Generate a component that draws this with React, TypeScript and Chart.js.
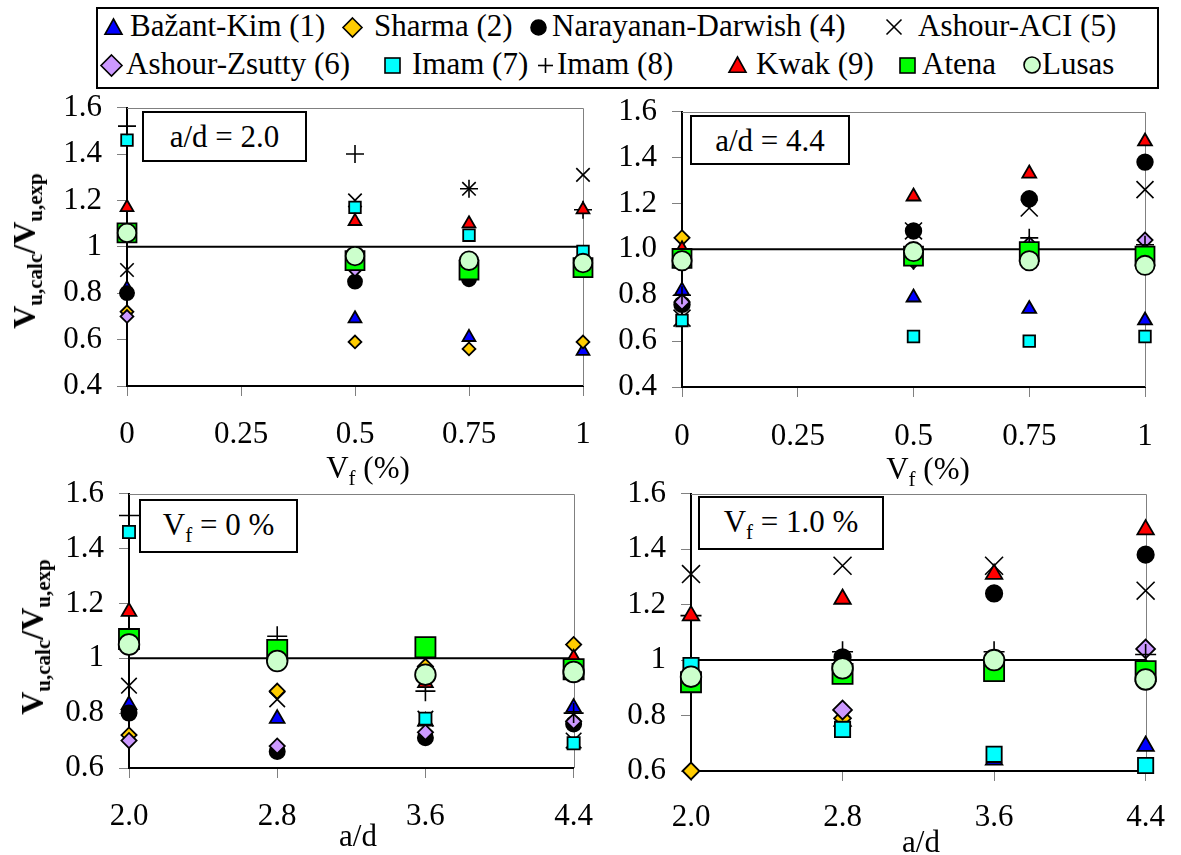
import React, { useEffect, useRef } from "react";
import { Chart, registerables } from "chart.js";

Chart.register(...registerables);

// ---------- categories & ticks ----------
const seriesNames = [
  "Bažant-Kim (1)",
  "Sharma (2)",
  "Narayanan-Darwish (4)",
  "Ashour-ACI (5)",
  "Ashour-Zsutty (6)",
  "Imam (7)",
  "Imam (8)",
  "Kwak (9)",
  "Atena",
  "Lusas",
];

const vfValues = [0, 0.5, 0.75, 1];
const adValues = [2.0, 2.8, 3.6, 4.4];

const vfTicks = [0, 0.25, 0.5, 0.75, 1];
const vfTickLabels = ["0", "0.25", "0.5", "0.75", "1"];
const adTicks = [2.0, 2.8, 3.6, 4.4];
const adTickLabels = ["2.0", "2.8", "3.6", "4.4"];
const yTicksTop = [0.4, 0.6, 0.8, 1.0, 1.2, 1.4, 1.6];
const yLabelsTopLeft = ["0.4", "0.6", "0.8", "1", "1.2", "1.4", "1.6"];
const yLabelsTopRight = ["0.4", "0.6", "0.8", "1.0", "1.2", "1.4", "1.6"];
const yTicksBottom = [0.6, 0.8, 1.0, 1.2, 1.4, 1.6];
const yLabelsBottom = ["0.6", "0.8", "1", "1.2", "1.4", "1.6"];

// ---------- panel a/d = 2.0 (x = Vf) ----------
const bazantKim_ad20 = [0.82, 0.69, 0.61, 0.55];
const sharma_ad20 = [0.72, 0.59, 0.56, 0.59];
const narayanan_ad20 = [0.8, 0.85, 0.86, 0.92];
const ashourAci_ad20 = [0.9, 1.2, 1.25, 1.31];
const ashourZsutty_ad20 = [0.7, 0.9, 0.88, 0.93];
const imam7_ad20 = [1.46, 1.17, 1.05, 0.98];
const imam8_ad20 = [1.52, 1.4, 1.25, 1.16];
const kwak_ad20 = [1.17, 1.11, 1.1, 1.16];
const atena_ad20 = [1.06, 0.94, 0.9, 0.91];
const lusas_ad20 = [1.06, 0.96, 0.94, 0.93];

// ---------- panel a/d = 4.4 (x = Vf) ----------
const bazantKim_ad44 = [0.82, 0.79, 0.74, 0.69];
const sharma_ad44 = [1.05, 0.96, 0.97, 0.97];
const narayanan_ad44 = [0.76, 1.08, 1.22, 1.38];
const ashourAci_ad44 = [0.7, 1.08, 1.18, 1.26];
const ashourZsutty_ad44 = [0.77, 0.95, 1.02, 1.04];
const imam7_ad44 = [0.69, 0.62, 0.6, 0.62];
const imam8_ad44 = [0.8, 0.95, 1.05, 1.02];
const kwak_ad44 = [1.0, 1.23, 1.33, 1.47];
const atena_ad44 = [0.96, 0.97, 0.99, 0.97];
const lusas_ad44 = [0.95, 0.99, 0.95, 0.93];

// ---------- panel Vf = 0 % (x = a/d) ----------
const bazantKim_vf0 = [0.83, 0.78, 0.77, 0.82];
const sharma_vf0 = [0.72, 0.88, 0.97, 1.05];
const narayanan_vf0 = [0.8, 0.66, 0.71, 0.76];
const ashourAci_vf0 = [0.9, 0.85, 0.78, 0.7];
const ashourZsutty_vf0 = [0.7, 0.68, 0.73, 0.77];
const imam7_vf0 = [1.46, 1.0, 0.78, 0.69];
const imam8_vf0 = [1.52, 1.08, 0.88, 0.8];
const kwak_vf0 = [1.17, 0.99, 0.91, 1.0];
const atena_vf0 = [1.07, 1.03, 1.04, 0.96];
const lusas_vf0 = [1.05, 0.99, 0.94, 0.95];

// ---------- panel Vf = 1.0 % (x = a/d) ----------
const bazantKim_vf1 = [0.55, 0.78, 0.64, 0.69];
const sharma_vf1 = [0.6, 0.79, 0.98, 0.97];
const narayanan_vf1 = [0.92, 1.01, 1.24, 1.38];
const ashourAci_vf1 = [1.31, 1.34, 1.34, 1.25];
const ashourZsutty_vf1 = [0.93, 0.82, 0.98, 1.04];
const imam7_vf1 = [0.98, 0.75, 0.66, 0.62];
const imam8_vf1 = [1.16, 1.03, 1.03, 1.02];
const kwak_vf1 = [1.16, 1.22, 1.31, 1.47];
const atena_vf1 = [0.92, 0.95, 0.96, 0.96];
const lusas_vf1 = [0.94, 0.97, 1.0, 0.93];

const referenceRatio = 1.0;

// ---------- styles ----------
const FONT = "Liberation Serif";

const STYLES = [
  { pointStyle: "triangle", bg: "#0000FF" },
  { pointStyle: "rectRot", bg: "#FFCC00" },
  { pointStyle: "circle", bg: "#000000" },
  { pointStyle: "crossRot", bg: "#000000" },
  { pointStyle: "rectRot", bg: "#CC99FF" },
  { pointStyle: "rect", bg: "#00FFFF" },
  { pointStyle: "cross", bg: "#000000" },
  { pointStyle: "triangle", bg: "#FF0000" },
  { pointStyle: "rect", bg: "#00FF00" },
  { pointStyle: "circle", bg: "#CCFFCC" },
];

const PANELS = [
  {
    x: vfValues,
    series: [bazantKim_ad20, sharma_ad20, narayanan_ad20, ashourAci_ad20, ashourZsutty_ad20, imam7_ad20, imam8_ad20, kwak_ad20, atena_ad20, lusas_ad20],
    xMin: 0, xMax: 1, xTicks: vfTicks, xLabels: vfTickLabels,
    yMin: 0.4, yMax: 1.6, yTicks: yTicksTop, yLabels: yLabelsTopLeft,
    L: 127, R: 583, T: 104, B: 386, xPad: 20,
    sizes: [7.4, 6.4, 7, 9.5, 6.4, 8.2, 9, 7.4, 13.4, 9.3],
  },
  {
    x: vfValues,
    series: [bazantKim_ad44, sharma_ad44, narayanan_ad44, ashourAci_ad44, ashourZsutty_ad44, imam7_ad44, imam8_ad44, kwak_ad44, atena_ad44, lusas_ad44],
    xMin: 0, xMax: 1, xTicks: vfTicks, xLabels: vfTickLabels,
    yMin: 0.4, yMax: 1.6, yTicks: yTicksTop, yLabels: yLabelsTopRight,
    L: 682, R: 1145, T: 108, B: 387, xPad: 21,
    sizes: [8, 7.6, 7.8, 12, 7.6, 8.2, 9, 8, 13.4, 9.6],
  },
  {
    x: adValues,
    series: [bazantKim_vf0, sharma_vf0, narayanan_vf0, ashourAci_vf0, ashourZsutty_vf0, imam7_vf0, imam8_vf0, kwak_vf0, atena_vf0, lusas_vf0],
    xMin: 2.0, xMax: 4.4, xTicks: adTicks, xLabels: adTickLabels,
    yMin: 0.6, yMax: 1.6, yTicks: yTicksBottom, yLabels: yLabelsBottom,
    L: 129, R: 583, T: 490, B: 768, xPad: 20,
    sizes: [8.5, 7.6, 7.6, 11, 7.6, 8.6, 10, 8.5, 14.2, 10.3],
  },
  {
    x: adValues,
    series: [bazantKim_vf1, sharma_vf1, narayanan_vf1, ashourAci_vf1, ashourZsutty_vf1, imam7_vf1, imam8_vf1, kwak_vf1, atena_vf1, lusas_vf1],
    xMin: 2.0, xMax: 4.4, xTicks: adTicks, xLabels: adTickLabels,
    yMin: 0.6, yMax: 1.6, yTicks: yTicksBottom, yLabels: yLabelsBottom,
    L: 691, R: 1153, T: 490, B: 771, xPad: 18,
    sizes: [9.5, 8.4, 8.2, 12.7, 9.4, 10.8, 10.5, 9.5, 14.2, 10.3],
  },
];

const PAD_L = 120;
const PAD_T = 30;
const PAD_R = 30;
const PAD_B = 80;
const Y_AXIS_W = 100;
const X_AXIS_H = 60;

const framePlugin = {
  id: "excelFrame",
  beforeDatasetsDraw(chart: any) {
    const { ctx, chartArea } = chart;
    const { left, right, top, bottom } = chartArea;
    ctx.save();
    ctx.strokeStyle = "#808080";
    ctx.lineWidth = 1;
    ctx.beginPath();
    ctx.moveTo(left, Math.round(top) + 0.5);
    ctx.lineTo(Math.round(right) + 0.5, Math.round(top) + 0.5);
    ctx.lineTo(Math.round(right) + 0.5, bottom);
    ctx.stroke();
    ctx.restore();
  },
};

function Panel({ p }: { p: any }) {
  const ref = useRef<HTMLCanvasElement | null>(null);
  const w = p.R - p.L + PAD_L + PAD_R;
  const h = p.B - p.T + PAD_T + PAD_B;

  useEffect(() => {
    if (!ref.current) return;
    const tickFont = { family: FONT, size: 31 };
    const datasets: any[] = p.series.map((vals: (number | null)[], i: number) => {
      const isCross = STYLES[i].pointStyle === "cross" || STYLES[i].pointStyle === "crossRot";
      return {
        label: seriesNames[i],
        data: p.x
          .map((x: number, j: number) => ({ x, y: vals[j] }))
          .filter((d: any) => d.y !== null),
        pointStyle: STYLES[i].pointStyle,
        backgroundColor: STYLES[i].bg,
        borderColor: "#000000",
        pointBackgroundColor: STYLES[i].bg,
        pointBorderColor: "#000000",
        pointBorderWidth: isCross ? 1.6 : 1.8,
        pointRadius: p.sizes[i],
        pointHoverRadius: p.sizes[i],
        showLine: false,
        order: 20 - i,
        clip: { left: 40, right: 40, top: 40, bottom: i === 0 ? 0 : 12 },
      };
    });
    datasets.push({
      type: "line",
      label: "ref",
      data: [
        { x: p.xMin, y: referenceRatio },
        { x: p.xMax, y: referenceRatio },
      ],
      borderColor: "#000000",
      borderWidth: 2,
      pointRadius: 0,
      fill: false,
      order: 100,
      clip: false,
    });

    const chart = new Chart(ref.current, {
      type: "scatter",
      data: { datasets },
      plugins: [framePlugin],
      options: {
        animation: false,
        responsive: false,
        devicePixelRatio: 1,
        events: [],
        font: { family: FONT },
        layout: {
          padding: {
            left: PAD_L - Y_AXIS_W,
            top: PAD_T,
            right: PAD_R,
            bottom: PAD_B - X_AXIS_H,
          },
        },
        plugins: {
          legend: { display: false },
          tooltip: { enabled: false },
          title: { display: false },
        },
        scales: {
          x: {
            type: "linear",
            min: p.xMin,
            max: p.xMax,
            afterBuildTicks: (s: any) => {
              s.ticks = p.xTicks.map((v: number) => ({ value: v }));
            },
            afterFit: (s: any) => {
              s.height = X_AXIS_H;
            },
            ticks: {
              callback: (_v: any, idx: number) => p.xLabels[idx],
              font: tickFont,
              color: "#000000",
              padding: p.xPad,
              maxRotation: 0,
              minRotation: 0,
              autoSkip: false,
            },
            grid: {
              display: true,
              drawOnChartArea: false,
              drawTicks: true,
              tickLength: 10,
              color: "#808080",
              lineWidth: 1,
            },
            border: { display: true, color: "#000000", width: 2 },
          },
          y: {
            type: "linear",
            min: p.yMin,
            max: p.yMax,
            afterBuildTicks: (s: any) => {
              s.ticks = p.yTicks.map((v: number) => ({ value: v }));
            },
            afterFit: (s: any) => {
              s.width = Y_AXIS_W;
            },
            ticks: {
              callback: (_v: any, idx: number) => p.yLabels[idx],
              font: tickFont,
              color: "#000000",
              padding: 15,
              autoSkip: false,
            },
            grid: {
              display: true,
              drawOnChartArea: false,
              drawTicks: true,
              tickLength: 10,
              color: "#808080",
              lineWidth: 1,
            },
            border: { display: true, color: "#000000", width: 2 },
          },
        },
      } as any,
    });
    return () => chart.destroy();
  }, [p]);

  return (
    <canvas
      ref={ref}
      width={w}
      height={h}
      style={{
        position: "absolute",
        left: p.L - PAD_L,
        top: p.T - PAD_T,
        width: w,
        height: h,
      }}
    />
  );
}

// ---------- legend markers (SVG) ----------
function Marker({ kind, color, cx, cy, s }: { kind: string; color: string; cx: number; cy: number; s: number }) {
  const box = s + 6;
  const c = box / 2;
  const hs = s / 2;
  let shape: any = null;
  if (kind === "triangle") {
    shape = <polygon points={`${c},${c - hs} ${c + hs},${c + hs * 0.8} ${c - hs},${c + hs * 0.8}`} fill={color} stroke="#000" strokeWidth={1.6} />;
  } else if (kind === "rectRot") {
    shape = <polygon points={`${c},${c - hs} ${c + hs},${c} ${c},${c + hs} ${c - hs},${c}`} fill={color} stroke="#000" strokeWidth={1.6} />;
  } else if (kind === "circle") {
    shape = <circle cx={c} cy={c} r={hs} fill={color} stroke="#000" strokeWidth={1.6} />;
  } else if (kind === "rect") {
    shape = <rect x={c - hs} y={c - hs} width={s} height={s} fill={color} stroke="#000" strokeWidth={1.6} />;
  } else if (kind === "cross") {
    shape = (
      <g stroke="#000" strokeWidth={1.6}>
        <line x1={c - hs} y1={c} x2={c + hs} y2={c} />
        <line x1={c} y1={c - hs} x2={c} y2={c + hs} />
      </g>
    );
  } else if (kind === "crossRot") {
    const d = hs * 0.75;
    shape = (
      <g stroke="#000" strokeWidth={1.6}>
        <line x1={c - d} y1={c - d} x2={c + d} y2={c + d} />
        <line x1={c - d} y1={c + d} x2={c + d} y2={c - d} />
      </g>
    );
  }
  return (
    <svg
      width={box}
      height={box}
      style={{ position: "absolute", left: cx - c, top: cy - c, overflow: "visible" }}
    >
      {shape}
    </svg>
  );
}

const LEGEND_ITEMS = [
  { i: 0, mx: 113, row: 0, tx: 130, s: 17 },
  { i: 1, mx: 352, row: 0, tx: 374, s: 19 },
  { i: 2, mx: 538, row: 0, tx: 552, s: 15 },
  { i: 3, mx: 894, row: 0, tx: 918, s: 20 },
  { i: 4, mx: 111, row: 1, tx: 126, s: 21 },
  { i: 5, mx: 392, row: 1, tx: 412, s: 15 },
  { i: 6, mx: 545, row: 1, tx: 557, s: 15 },
  { i: 7, mx: 737, row: 1, tx: 756, s: 17 },
  { i: 8, mx: 907, row: 1, tx: 922, s: 15 },
  { i: 9, mx: 1032, row: 1, tx: 1042, s: 16 },
];
const ROW_BASELINE = [36, 74];
const ROW_MARKER_Y = [27, 65];

function Sub({ children, size }: { children: any; size: number }) {
  return (
    <span style={{ fontSize: size, position: "relative", top: size * 0.35 }}>{children}</span>
  );
}

const textBase: any = {
  position: "absolute",
  fontFamily: FONT,
  fontSize: 31,
  lineHeight: "31px",
  whiteSpace: "nowrap",
  color: "#000",
};

export default function App() {
  return (
    <div
      style={{
        position: "absolute",
        left: 0,
        top: 0,
        width: 1181,
        height: 855,
        overflow: "hidden",
        background: "#ffffff",
        fontFamily: FONT,
      }}
    >
      {PANELS.map((p, k) => (
        <Panel key={k} p={p} />
      ))}

      {/* legend */}
      <div
        style={{
          position: "absolute",
          left: 96,
          top: 7,
          width: 1063,
          height: 82,
          border: "2px solid #000",
          boxSizing: "border-box",
          background: "#fff",
        }}
      />
      {LEGEND_ITEMS.map((it) => (
        <React.Fragment key={it.i}>
          <Marker
            kind={STYLES[it.i].pointStyle}
            color={STYLES[it.i].bg}
            cx={it.mx}
            cy={ROW_MARKER_Y[it.row]}
            s={it.s}
          />
          <div style={{ ...textBase, left: it.tx, top: ROW_BASELINE[it.row] - 26 }}>
            {seriesNames[it.i]}
          </div>
        </React.Fragment>
      ))}

      {/* annotation boxes */}
      {[
        { l: 142, t: 111, w: 165, h: 51, content: <>a/d = 2.0</> },
        { l: 690, t: 115, w: 160, h: 50, content: <>a/d = 4.4</> },
        { l: 139, t: 499, w: 159, h: 54, content: <>V<Sub size={21}>f</Sub> = 0 %</> },
        { l: 698, t: 496, w: 186, h: 54, content: <>V<Sub size={21}>f</Sub> = 1.0 %</> },
      ].map((b, k) => (
        <div
          key={k}
          style={{
            position: "absolute",
            left: b.l,
            top: b.t,
            width: b.w,
            height: b.h,
            border: "2px solid #000",
            boxSizing: "border-box",
            background: "#fff",
            display: "flex",
            alignItems: "center",
            justifyContent: "center",
            fontFamily: FONT,
            fontSize: 31,
            lineHeight: "31px",
            whiteSpace: "nowrap",
          }}
        >
          <span>{b.content}</span>
        </div>
      ))}

      {/* x-axis titles */}
      <div style={{ ...textBase, left: 368, top: 478 - 26, transform: "translateX(-50%)" }}>
        V<Sub size={21}>f</Sub> (%)
      </div>
      <div style={{ ...textBase, left: 928, top: 479 - 26, transform: "translateX(-50%)" }}>
        V<Sub size={21}>f</Sub> (%)
      </div>
      <div style={{ ...textBase, left: 358, top: 846 - 26, transform: "translateX(-50%)" }}>a/d</div>
      <div style={{ ...textBase, left: 921, top: 852 - 26, transform: "translateX(-50%)" }}>a/d</div>

      {/* y-axis titles */}
      {[
        { cx: 26, cy: 251 },
        { cx: 34, cy: 637 },
      ].map((t, k) => (
        <div
          key={k}
          style={{
            ...textBase,
            fontWeight: "bold",
            fontSize: 32,
            lineHeight: "32px",
            left: t.cx,
            top: t.cy,
            transform: "translate(-50%, -50%) rotate(-90deg)",
          }}
        >
          V<Sub size={21}>u,calc</Sub>/V<Sub size={21}>u,exp</Sub>
        </div>
      ))}
    </div>
  );
}
